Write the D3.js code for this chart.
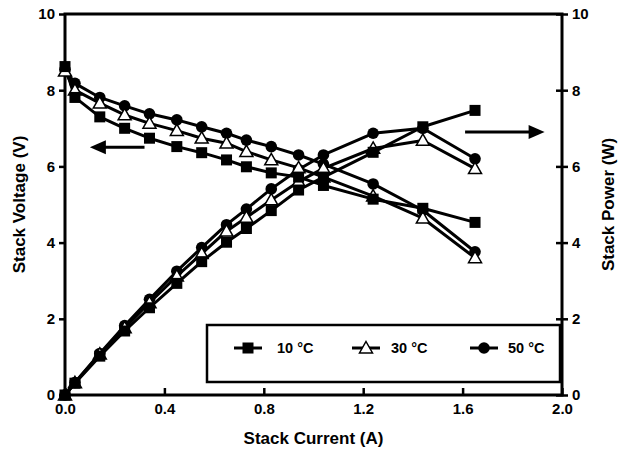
<!DOCTYPE html>
<html>
<head>
<meta charset="utf-8">
<script src="https://cdn.jsdelivr.net/npm/d3@7/dist/d3.min.js"></script>
<style>
  html, body { margin: 0; padding: 0; background: #fff; }
  svg { display: block; font-family: "Liberation Sans", Arial, Helvetica, sans-serif; font-weight: bold; }
</style>
</head>
<body>
<svg id="chart" width="618" height="464"></svg>
<script>
// ---- Data ----
const current = [0, 0.04, 0.14, 0.24, 0.34, 0.45, 0.55, 0.65, 0.73, 0.83, 0.94, 1.04, 1.24, 1.44, 1.65];

const voltage10 = [8.62, 7.81, 7.30, 7.00, 6.74, 6.52, 6.36, 6.17, 5.99, 5.83, 5.72, 5.50, 5.14, 4.90, 4.53];
const voltage30 = [8.50, 8.00, 7.66, 7.35, 7.13, 6.94, 6.74, 6.61, 6.39, 6.17, 5.96, 5.72, 5.22, 4.64, 3.60];
const voltage50 = [8.55, 8.18, 7.81, 7.59, 7.38, 7.22, 7.04, 6.87, 6.69, 6.52, 6.30, 6.06, 5.54, 4.85, 3.76];

const power10 = [0, 0.31, 1.02, 1.68, 2.29, 2.93, 3.50, 4.01, 4.37, 4.84, 5.38, 5.72, 6.37, 7.04, 7.47];
const power30 = [0, 0.32, 1.07, 1.76, 2.42, 3.12, 3.71, 4.30, 4.66, 5.12, 5.60, 5.95, 6.47, 6.68, 5.94];
const power50 = [0, 0.33, 1.09, 1.82, 2.51, 3.25, 3.87, 4.47, 4.88, 5.41, 5.92, 6.30, 6.87, 7.00, 6.20];

const seriesNames = ["10 °C", "30 °C", "50 °C"];
const seriesMarkers = ["square", "triangle", "circle"];

const xTicks = [0, 0.4, 0.8, 1.2, 1.6, 2.0];
const yTicks = [0, 2, 4, 6, 8, 10];

const xTitle = "Stack Current (A)";
const yLeftTitle = "Stack Voltage (V)";
const yRightTitle = "Stack Power (W)";

// ---- Layout ----
const svg = d3.select("#chart");
const L = 65, R = 562, T = 14, B = 395;

const x = d3.scaleLinear().domain([0, 2]).range([L, R]);
const yL = d3.scaleLinear().domain([0, 10]).range([B, T]);
const yR = d3.scaleLinear().domain([0, 10]).range([B, T]);

// Axes
const fmtX = d3.format(".1f");
const gx = svg.append("g").attr("transform", `translate(0,${B})`)
  .call(d3.axisBottom(x).tickValues(xTicks).tickFormat(fmtX).tickSizeInner(-7).tickSizeOuter(0).tickPadding(8));
const gl = svg.append("g").attr("transform", `translate(${L},0)`)
  .call(d3.axisLeft(yL).tickValues(yTicks).tickFormat(d3.format("d")).tickSizeInner(6).tickSizeOuter(0).tickPadding(4));
const gr = svg.append("g").attr("transform", `translate(${R},0)`)
  .call(d3.axisRight(yR).tickValues(yTicks).tickFormat(d3.format("d")).tickSizeInner(6).tickSizeOuter(0).tickPadding(4));
gr.selectAll(".tick line").attr("x1", -6);

[gx, gl, gr].forEach(g => {
  g.select(".domain").remove();
  g.selectAll(".tick line").attr("stroke", "#000").attr("stroke-width", 2.5);
  g.selectAll(".tick text").attr("fill", "#000").attr("font-size", 15).attr("font-weight", "bold")
    .attr("font-family", "'Liberation Sans', Arial, sans-serif");
});

// Frame
svg.append("rect").attr("x", L).attr("y", T).attr("width", R - L).attr("height", B - T)
  .attr("fill", "none").attr("stroke", "#000").attr("stroke-width", 3);

// Titles
svg.append("text").attr("x", (L + R) / 2).attr("y", 444).attr("text-anchor", "middle")
  .attr("font-size", 17).text(xTitle);
svg.append("text").attr("transform", `translate(25,${(T + B) / 2}) rotate(-90)`).attr("text-anchor", "middle")
  .attr("font-size", 17).text(yLeftTitle);
svg.append("text").attr("transform", `translate(614,${(T + B) / 2}) rotate(-90)`).attr("text-anchor", "middle")
  .attr("font-size", 17).text(yRightTitle);

// Legend box
const legend = svg.append("g");
legend.append("rect").attr("x", 207).attr("y", 325).attr("width", 353).attr("height", 57)
  .attr("fill", "#fff").attr("stroke", "#000").attr("stroke-width", 2.5);

// Markers
function drawMarker(g, type, cx, cy) {
  if (type === "square") {
    g.append("rect").attr("x", cx - 5.5).attr("y", cy - 5.5).attr("width", 11).attr("height", 11).attr("fill", "#000");
  } else if (type === "circle") {
    g.append("circle").attr("cx", cx).attr("cy", cy).attr("r", 5.8).attr("fill", "#000");
  } else {
    const s = 6.5;
    g.append("path").attr("d", `M${cx},${cy - s}L${cx + s},${cy + s * 0.75}L${cx - s},${cy + s * 0.75}Z`)
      .attr("fill", "#fff").attr("stroke", "#000").attr("stroke-width", 1.5);
  }
}

const line = d3.line();
const allV = [voltage10, voltage30, voltage50];
const allP = [power10, power30, power50];
const order = [2, 1, 0];
const plot = svg.append("g");
order.forEach(i => {
  const g = plot.append("g");
  [[allV[i], yL], [allP[i], yR]].forEach(([vals, ys]) => {
    const pts = current.map((c, k) => [x(c), ys(vals[k])]);
    g.append("path").attr("d", line(pts)).attr("fill", "none").attr("stroke", "#000").attr("stroke-width", 3)
      .attr("stroke-linejoin", "round");
  });
});
order.forEach(i => {
  const g = plot.append("g");
  [[allV[i], yL], [allP[i], yR]].forEach(([vals, ys]) => {
    current.forEach((c, k) => drawMarker(g, seriesMarkers[i], x(c), ys(vals[k])));
  });
});

// Arrows
function arrow(x1, x2, yy) {
  const dir = Math.sign(x2 - x1);
  svg.append("line").attr("x1", x1).attr("x2", x2 - dir * 12).attr("y1", yy).attr("y2", yy)
    .attr("stroke", "#000").attr("stroke-width", 3);
  svg.append("path").attr("d", `M${x2},${yy}L${x2 - dir * 16},${yy - 7}L${x2 - dir * 16},${yy + 7}Z`).attr("fill", "#000");
}
arrow(x(0.32), x(0.1), yL(6.5));
arrow(x(1.61), x(1.93), yR(6.9));

// Legend entries
const legX = [248, 366, 484];
const legTextX = [277, 391, 508];
const legY = 348;
seriesNames.forEach((name, i) => {
  legend.append("line").attr("x1", legX[i] - 14).attr("x2", legX[i] + 14).attr("y1", legY).attr("y2", legY)
    .attr("stroke", "#000").attr("stroke-width", 3);
  drawMarker(legend, seriesMarkers[i], legX[i], legY);
  const parts = name.split(" ");
  const t = legend.append("text").attr("x", legTextX[i]).attr("y", legY + 5).attr("font-size", 14.5);
  t.append("tspan").text(parts[0] + " ");
  t.append("tspan").text(parts[1]);
});
</script>
</body>
</html>
